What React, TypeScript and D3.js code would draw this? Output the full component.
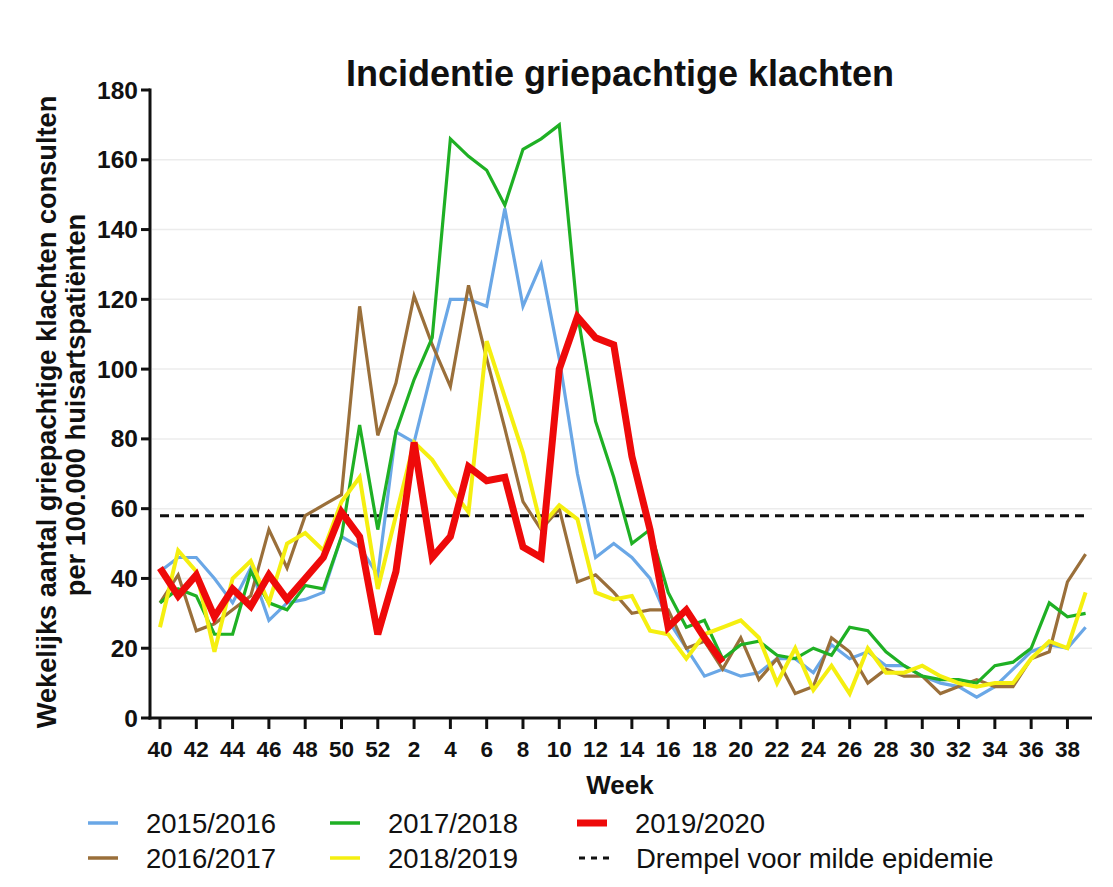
import React from 'react';
import * as d3 from 'd3';

// weeks 40..52 then 1..39
const weeks = [
  40, 41, 42, 43, 44, 45, 46, 47, 48, 49, 50, 51, 52,
  1, 2, 3, 4, 5, 6, 7, 8, 9, 10, 11, 12, 13, 14, 15, 16, 17, 18, 19, 20,
  21, 22, 23, 24, 25, 26, 27, 28, 29, 30, 31, 32, 33, 34, 35, 36, 37, 38, 39,
];

const s2015 = [
  42, 46, 46, 40, 33, 43, 28, 33, 34, 36, 52, 49, 41,
  82, 79, 100, 120, 120, 118, 146, 118, 130, 103, 70, 46, 50, 46, 40, 28, 20, 12, 14, 12,
  13, 17, 17, 13, 21, 17, 19, 15, 15, 12, 10, 9, 6, 9, 14, 19, 21, 20, 26,
];
const s2016 = [
  33, 41, 25, 27, 31, 35, 54, 43, 58, 61, 64, 118, 81,
  96, 121, 107, 95, 124, 103, 83, 62, 54, 60, 39, 41, 36, 30, 31, 31, 20, 22, 14, 23,
  11, 17, 7, 9, 23, 19, 10, 14, 12, 12, 7, 9, 11, 9, 9, 17, 19, 39, 47,
];
const s2017 = [
  33, 37, 35, 24, 24, 42, 33, 31, 38, 37, 52, 84, 54,
  82, 97, 109, 166, 161, 157, 147, 163, 166, 170, 116, 85, 69, 50, 54, 36, 26, 28, 17, 21,
  22, 18, 17, 20, 18, 26, 25, 19, 15, 12, 11, 11, 10, 15, 16, 20, 33, 29, 30,
];
const s2018 = [
  26, 48, 42, 19, 40, 45, 33, 50, 53, 48, 62, 69, 37,
  58, 79, 74, 66, 59, 108, 92, 76, 55, 61, 57, 36, 34, 35, 25, 24, 17, 24, 26, 28,
  23, 10, 20, 8, 15, 7, 20, 13, 13, 15, 12, 10, 9, 10, 10, 17, 22, 20, 36,
];
// season still running: up to week 19
const s2019 = [
  43, 35, 41, 29, 37, 32, 41, 34, 40, 46, 59, 52, 24,
  42, 79, 46, 52, 72, 68, 69, 49, 46, 100, 115, 109, 107, 75, 54, 26, 31, 23, 16,
];

const threshold = 58;

const seriesNames = ['2015/2016', '2016/2017', '2017/2018', '2018/2019', '2019/2020'];
const seriesData = [s2015, s2016, s2017, s2018, s2019];
const seriesColors = ['#6aa7e6', '#9a6f3a', '#1fb024', '#f5ef10', '#ee0a0a'];
const seriesWidths = [3.2, 3.2, 3.2, 4, 7];

const FONT = '"Liberation Sans", Arial, Helvetica, sans-serif';

export default function App() {
  const W = 1113;
  const H = 887;

  const x = d3.scaleLinear().domain([0, weeks.length - 1]).range([160, 1085.6]);
  const y = d3.scaleLinear().domain([0, 180]).range([718, 90]);

  const line = d3
    .line<number>()
    .x((d, i) => x(i))
    .y((d) => y(d));

  const xLeft = 150;
  const xRight = 1092;

  // legend layout: column, row
  const legendPos = [
    [88, 823],
    [88, 858],
    [330, 823],
    [330, 858],
    [577, 823],
  ];

  return (
    <div style={{ position: 'absolute', left: 0, top: 0 }}>
      <svg width={W} height={H} style={{ display: 'block', background: '#fff' }} fontFamily={FONT}>
        <rect width={W} height={H} fill="#fff" />

        {/* title */}
        <text x={620} y={86} textAnchor="middle" fontSize={36} fontWeight="bold" fill="#111">
          Incidentie griepachtige klachten
        </text>

        {/* gridlines */}
        {y.ticks(9).filter((t) => t > 0 && t < 180).map((t) => (
          <line key={'g' + t} x1={xLeft + 2} x2={xRight} y1={y(t)} y2={y(t)} stroke="#ececec" strokeWidth={1.5} />
        ))}

        {/* threshold */}
        <line
          x1={x(0)}
          x2={x(weeks.length - 1)}
          y1={y(threshold)}
          y2={y(threshold)}
          stroke="#111"
          strokeWidth={3}
          strokeDasharray="9 6"
        />

        {/* series */}
        {seriesData.map((s, k) => (
          <path
            key={seriesNames[k]}
            d={line(s) || ''}
            fill="none"
            stroke={seriesColors[k]}
            strokeWidth={seriesWidths[k]}
            strokeLinejoin="miter"
          />
        ))}

        {/* y axis */}
        <line x1={xLeft} x2={xLeft} y1={y(180) - 1.5} y2={y(0) + 1.5} stroke="#111" strokeWidth={3} />
        {y.ticks(9).map((t) => (
          <g key={'y' + t}>
            <line x1={xLeft - 9} x2={xLeft} y1={y(t)} y2={y(t)} stroke="#111" strokeWidth={3} />
            <text x={xLeft - 12} y={y(t) + 8.5} textAnchor="end" fontSize={24.5} fontWeight="bold" fill="#111">
              {t}
            </text>
          </g>
        ))}

        {/* x axis */}
        <line x1={xLeft - 1.5} x2={xRight} y1={y(0)} y2={y(0)} stroke="#111" strokeWidth={3} />
        {weeks.map((w, i) =>
          i % 2 === 0 ? (
            <g key={'x' + i}>
              <line x1={x(i)} x2={x(i)} y1={y(0)} y2={y(0) + 11} stroke="#111" strokeWidth={3} />
              <text x={x(i)} y={757} textAnchor="middle" fontSize={22.5} fontWeight="bold" fill="#111">
                {w}
              </text>
            </g>
          ) : null
        )}

        <text x={620} y={794} textAnchor="middle" fontSize={26} fontWeight="bold" fill="#111">
          Week
        </text>

        {/* y axis title */}
        <text
          transform="translate(56,412) rotate(-90)"
          textAnchor="middle"
          fontSize={27.2}
          fontWeight="bold"
          fill="#111"
        >
          Wekelijks aantal griepachtige klachten consulten
        </text>
        <text
          transform="translate(85,405) rotate(-90)"
          textAnchor="middle"
          fontSize={27.2}
          fontWeight="bold"
          fill="#111"
        >
          per 100.000 huisartspatiënten
        </text>

        {/* legend */}
        {seriesNames.map((n, k) => (
          <g key={'l' + n}>
            <line
              x1={legendPos[k][0]}
              x2={legendPos[k][0] + 30}
              y1={legendPos[k][1]}
              y2={legendPos[k][1]}
              stroke={seriesColors[k]}
              strokeWidth={k === 4 ? 7 : 3.5}
            />
            <text x={legendPos[k][0] + 58} y={legendPos[k][1] + 10} fontSize={27.5} fill="#111">
              {n}
            </text>
          </g>
        ))}
        <line x1={579} x2={609} y1={858} y2={858} stroke="#111" strokeWidth={3} strokeDasharray="6 6" />
        <text x={636} y={868} fontSize={27.5} fill="#111">
          Drempel voor milde epidemie
        </text>
      </svg>
    </div>
  );
}
